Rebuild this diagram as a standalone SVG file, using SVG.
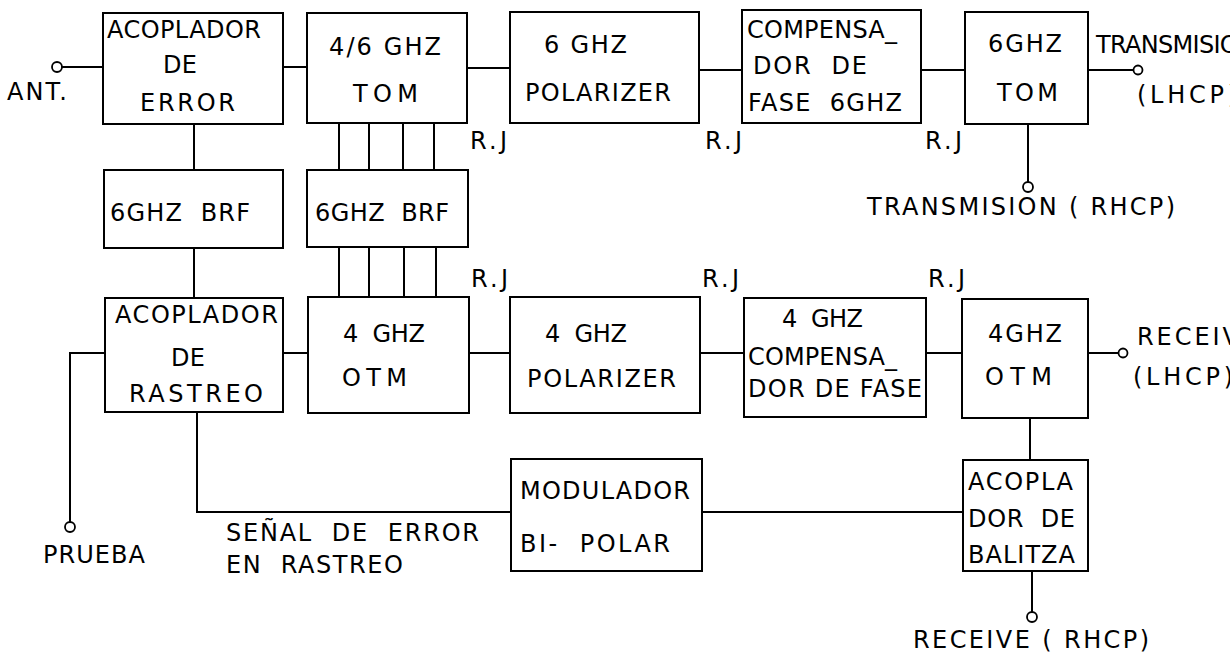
<svg xmlns="http://www.w3.org/2000/svg" width="1230" height="656" viewBox="0 0 1230 656">
<style>
rect.box{fill:none;stroke:#000;stroke-width:2}
.wire{fill:none;stroke:#000;stroke-width:2}
.term{fill:#fff;stroke:#000;stroke-width:1.8}
text{font-family:"DejaVu Sans","Liberation Sans",Arial,sans-serif;font-size:24px;fill:#000;white-space:pre}
</style>
<rect width="1230" height="656" fill="#fff"/>
<g id="connectors">
<line class="wire" x1="283" y1="67" x2="307" y2="67"/>
<line class="wire" x1="467" y1="68" x2="510" y2="68"/>
<line class="wire" x1="699" y1="70" x2="742" y2="70"/>
<line class="wire" x1="921" y1="70" x2="965" y2="70"/>
<line class="wire" x1="194" y1="124" x2="194" y2="170"/>
<line class="wire" x1="339" y1="123" x2="339" y2="170"/>
<line class="wire" x1="369" y1="123" x2="369" y2="170"/>
<line class="wire" x1="403" y1="123" x2="403" y2="170"/>
<line class="wire" x1="434" y1="123" x2="434" y2="170"/>
<line class="wire" x1="194" y1="248" x2="194" y2="298"/>
<line class="wire" x1="339" y1="247" x2="339" y2="297"/>
<line class="wire" x1="369" y1="247" x2="369" y2="297"/>
<line class="wire" x1="404" y1="247" x2="404" y2="297"/>
<line class="wire" x1="436" y1="247" x2="436" y2="297"/>
<line class="wire" x1="283" y1="353" x2="308" y2="353"/>
<line class="wire" x1="469" y1="353" x2="510" y2="353"/>
<line class="wire" x1="700" y1="353" x2="744" y2="353"/>
<line class="wire" x1="926" y1="353" x2="962" y2="353"/>
<line class="wire" x1="1030" y1="418" x2="1030" y2="460"/>
<polyline class="wire" points="197,413 197,512 511,512"/>
<line class="wire" x1="702" y1="512" x2="963" y2="512"/>
</g>
<g id="terminals">
<g id="t-ant">
<line class="wire" x1="62" y1="67" x2="103" y2="67"/>
<circle class="term" cx="57" cy="67" r="5"/>
<text x="7" y="100" textLength="60">ANT.</text>
</g>
<g id="t-tx-lhcp">
<line class="wire" x1="1088" y1="70" x2="1133" y2="70"/>
<circle class="term" cx="1138" cy="70" r="4.5"/>
<text x="1096" y="53" textLength="160">TRANSMISION</text>
<text x="1137" y="103" textLength="100">(LHCP)</text>
</g>
<g id="t-tx-rhcp">
<line class="wire" x1="1028" y1="124" x2="1028" y2="182"/>
<circle class="term" cx="1028" cy="187" r="5"/>
<text x="867" y="215" textLength="308">TRANSMISION ( RHCP)</text>
</g>
<g id="t-rx-lhcp">
<line class="wire" x1="1088" y1="353" x2="1118" y2="353"/>
<circle class="term" cx="1123" cy="353" r="4.5"/>
<text x="1137" y="345" textLength="120">RECEIVE</text>
<text x="1133" y="385" textLength="100">(LHCP)</text>
</g>
<g id="t-rx-rhcp">
<line class="wire" x1="1032" y1="571" x2="1032" y2="612"/>
<circle class="term" cx="1032" cy="617" r="5"/>
<text x="913" y="648" textLength="236">RECEIVE ( RHCP)</text>
</g>
<g id="t-prueba">
<polyline class="wire" points="105,353 70,353 70,522"/>
<circle class="term" cx="70" cy="527" r="5"/>
<text x="43" y="563" textLength="102">PRUEBA</text>
</g>
</g>
<g id="labels">
<text x="470" y="149" textLength="37">R.J</text>
<text x="705" y="149" textLength="37">R.J</text>
<text x="925" y="149" textLength="37">R.J</text>
<text x="471" y="287" textLength="37">R.J</text>
<text x="702" y="287" textLength="37">R.J</text>
<text x="928" y="287" textLength="37">R.J</text>
<text x="226" y="541" textLength="253">SEÑAL  DE  ERROR</text>
<text x="226" y="573" textLength="177">EN  RASTREO</text>
</g>
<g id="n-acoplador-error">
<rect class="box" x="103" y="13" width="180" height="111"/>
<text x="107" y="38" textLength="154">ACOPLADOR</text>
<text x="163" y="73" textLength="34">DE</text>
<text x="140" y="111" textLength="95">ERROR</text>
</g>
<g id="n-tom-46">
<rect class="box" x="307" y="13" width="160" height="110"/>
<text x="329" y="55" textLength="112">4/6 GHZ</text>
<text x="353" y="102" textLength="65">TOM</text>
</g>
<g id="n-polarizer-6">
<rect class="box" x="510" y="12" width="189" height="111"/>
<text x="544" y="53" textLength="83">6 GHZ</text>
<text x="525" y="101" textLength="146">POLARIZER</text>
</g>
<g id="n-compensador-6">
<rect class="box" x="742" y="10" width="179" height="113"/>
<text x="747" y="38" textLength="150">COMPENSA_</text>
<text x="753" y="74" textLength="114">DOR  DE</text>
<text x="748" y="111" textLength="154">FASE  6GHZ</text>
</g>
<g id="n-tom-6">
<rect class="box" x="965" y="12" width="123" height="112"/>
<text x="988" y="52" textLength="74">6GHZ</text>
<text x="997" y="101" textLength="61">TOM</text>
</g>
<g id="n-brf-1">
<rect class="box" x="104" y="170" width="179" height="78"/>
<text x="110" y="221" textLength="140">6GHZ  BRF</text>
</g>
<g id="n-brf-2">
<rect class="box" x="307" y="170" width="161" height="77"/>
<text x="315" y="221" textLength="134">6GHZ  BRF</text>
</g>
<g id="n-acoplador-rastreo">
<rect class="box" x="105" y="298" width="178" height="114"/>
<text x="115" y="323" textLength="163">ACOPLADOR</text>
<text x="171" y="366" textLength="34">DE</text>
<text x="129" y="402" textLength="134">RASTREO</text>
</g>
<g id="n-otm-4a">
<rect class="box" x="308" y="297" width="161" height="116"/>
<text x="343" y="342" textLength="82">4  GHZ</text>
<text x="342" y="386" textLength="65">OTM</text>
</g>
<g id="n-polarizer-4">
<rect class="box" x="510" y="297" width="190" height="116"/>
<text x="545" y="342" textLength="82">4  GHZ</text>
<text x="527" y="387" textLength="149">POLARIZER</text>
</g>
<g id="n-compensador-4">
<rect class="box" x="744" y="298" width="182" height="119"/>
<text x="782" y="327" textLength="81">4  GHZ</text>
<text x="748" y="365" textLength="149">COMPENSA_</text>
<text x="748" y="397" textLength="174">DOR DE FASE</text>
</g>
<g id="n-otm-4b">
<rect class="box" x="962" y="299" width="126" height="119"/>
<text x="988" y="342" textLength="74">4GHZ</text>
<text x="985" y="385" textLength="67">OTM</text>
</g>
<g id="n-modulador">
<rect class="box" x="511" y="459" width="191" height="112"/>
<text x="520" y="499" textLength="170">MODULADOR</text>
<text x="520" y="552" textLength="150">BI-  POLAR</text>
</g>
<g id="n-acoplador-balitza">
<rect class="box" x="963" y="460" width="125" height="111"/>
<text x="968" y="490" textLength="105">ACOPLA</text>
<text x="968" y="527" textLength="107">DOR  DE</text>
<text x="968" y="563" textLength="107">BALITZA</text>
</g>
</svg>
